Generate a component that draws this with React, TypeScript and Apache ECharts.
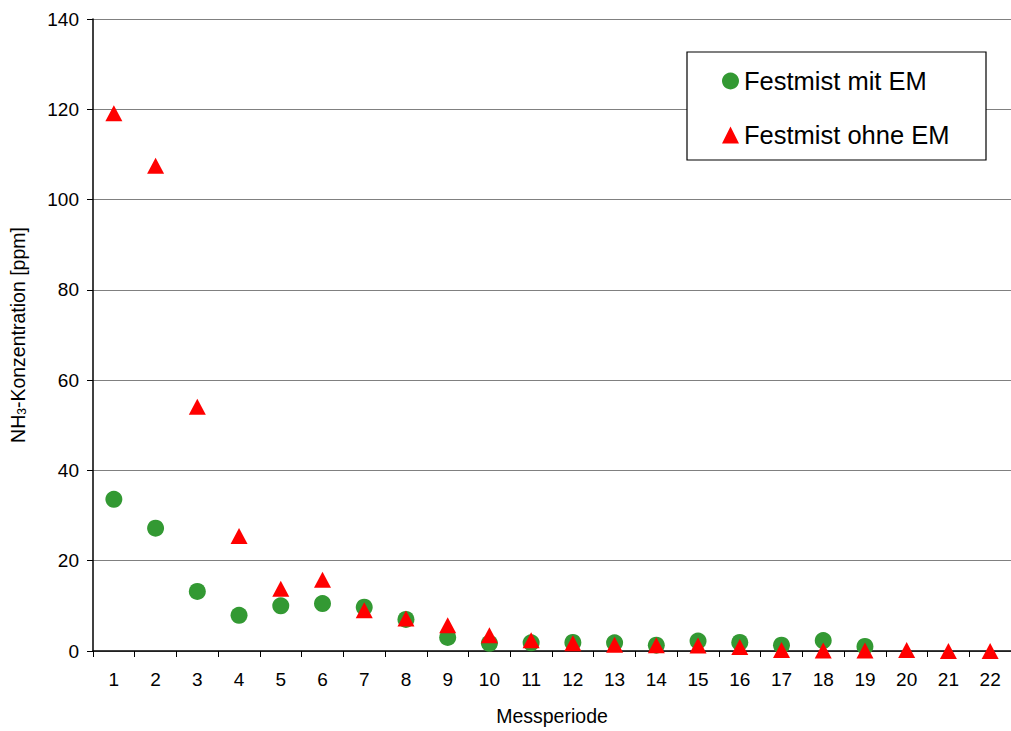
import React, { useEffect, useRef } from "react";
import * as echarts from "echarts";

const categories = ["1","2","3","4","5","6","7","8","9","10","11","12","13","14","15","16","17","18","19","20","21","22"];
const mitEM: (number | null)[] = [33.6, 27.2, 13.2, 7.9, 10.0, 10.5, 9.7, 7.0, 3.0, 1.7, 1.8, 1.9, 1.8, 1.3, 2.2, 1.9, 1.3, 2.3, 1.0, null, null, null];
const ohneEM: number[] = [119.1, 107.5, 54.1, 25.5, 13.8, 15.8, 9.0, 7.2, 5.7, 3.5, 2.4, 1.7, 1.4, 1.3, 1.2, 0.9, 0.2, 0.1, 0.1, 0.2, 0, 0];
const yTicks = { min: 0, max: 140, interval: 20 };
const seriesNames = ["Festmist mit EM", "Festmist ohne EM"];

const FONT = "'Liberation Sans', Arial, sans-serif";

export default function App() {
  const ref = useRef<HTMLDivElement>(null);
  useEffect(() => {
    if (!ref.current) return;
    const chart = echarts.init(ref.current, null, { renderer: "svg" });
    chart.setOption({
      animation: false,
      backgroundColor: "#ffffff",
      textStyle: { fontFamily: FONT },
      grid: { left: 92, right: -4, top: 19, bottom: 75, containLabel: false },
      xAxis: {
        type: "category",
        data: categories,
        boundaryGap: true,
        name: "Messperiode",
        nameLocation: "middle",
        nameGap: 55,
        nameTextStyle: { fontSize: 19.5, color: "#000", fontFamily: FONT },
        axisLine: { lineStyle: { color: "#000", width: 1.5 } },
        axisTick: { show: true, length: 6, lineStyle: { color: "#000" }, alignWithLabel: false },
        axisLabel: { fontSize: 19, color: "#000", margin: 19, fontFamily: FONT, interval: 0 },
        splitLine: { show: false },
      },
      yAxis: {
        type: "value",
        min: yTicks.min,
        max: yTicks.max,
        interval: yTicks.interval,
        name: "NH{sub|3}-Konzentration [ppm]",
        nameLocation: "middle",
        nameGap: 65,
        nameTextStyle: {
          fontSize: 19.5,
          color: "#000",
          fontFamily: FONT,
          rich: { sub: { fontSize: 12, verticalAlign: "bottom", color: "#000", fontFamily: FONT, padding: [8, 0, 0, 0] } },
        },
        axisLine: { show: true, lineStyle: { color: "#000", width: 1.5 } },
        axisTick: { show: true, length: 6, lineStyle: { color: "#000" } },
        axisLabel: { fontSize: 19, color: "#000", margin: 14, fontFamily: FONT },
        splitLine: { show: true, lineStyle: { color: "#808080", width: 1 } },
      },
      legend: {
        show: true,
        orient: "vertical",
        left: 717,
        top: 63,
        itemWidth: 17,
        itemHeight: 17,
        itemGap: 28,
        z: 10,
        textStyle: { fontSize: 25.5, color: "#000", fontFamily: FONT, padding: [0, 0, 0, 0] },
        data: [
          { name: seriesNames[0], icon: "circle" },
          { name: seriesNames[1], icon: "triangle" },
        ],
      },
      graphic: [
        {
          type: "rect",
          z: 5,
          shape: { x: 687, y: 52, width: 299, height: 108 },
          style: { fill: "#ffffff", stroke: "#000", lineWidth: 1.2 },
        },
      ],
      series: [
        {
          name: seriesNames[0],
          type: "scatter",
          data: mitEM,
          symbol: "circle",
          symbolSize: 17,
          itemStyle: { color: "#339933", opacity: 1 },
          z: 2,
        },
        {
          name: seriesNames[1],
          type: "scatter",
          data: ohneEM,
          symbol: "triangle",
          symbolSize: [17, 16],
          itemStyle: { color: "#ff0000", opacity: 1 },
          z: 3,
        },
      ],
    });
    return () => chart.dispose();
  }, []);
  return <div ref={ref} style={{ width: 1011, height: 731, position: "absolute", left: 0, top: 0 }} />;
}
